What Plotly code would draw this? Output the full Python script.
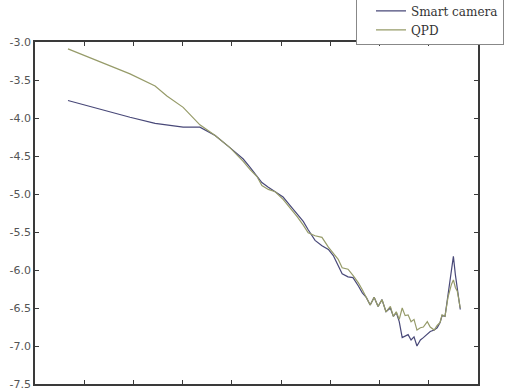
import plotly.graph_objects as go

# x positions (shared by both series)
x_vals = [0.67, 1.28, 1.93, 2.44, 2.68, 3.01, 3.35, 3.66, 3.96, 4.23, 4.37, 4.51, 4.61, 4.74,
          4.88, 5.04, 5.18, 5.33, 5.45, 5.55, 5.69, 5.83, 5.96, 6.06, 6.16, 6.24, 6.36, 6.46,
          6.57, 6.65, 6.73, 6.81, 6.89, 6.97, 7.05, 7.13, 7.22, 7.28, 7.34, 7.40, 7.46, 7.52,
          7.58, 7.64, 7.70, 7.76, 7.83, 7.89, 7.97, 8.03, 8.11, 8.17, 8.23, 8.27, 8.33, 8.39,
          8.46, 8.50, 8.54, 8.58, 8.64]

smart_camera = [-3.77, -3.88, -3.99, -4.07, -4.09, -4.12, -4.12, -4.23, -4.39, -4.54, -4.65, -4.77,
                -4.85, -4.91, -4.97, -5.04, -5.15, -5.27, -5.36, -5.47, -5.61, -5.68, -5.73, -5.81,
                -5.94, -6.05, -6.09, -6.10, -6.21, -6.30, -6.36, -6.46, -6.36, -6.48, -6.39, -6.55,
                -6.50, -6.61, -6.56, -6.68, -6.89, -6.87, -6.85, -6.92, -6.88, -7.00, -6.92, -6.89,
                -6.85, -6.81, -6.79, -6.76, -6.69, -6.60, -6.61, -6.32, -5.97, -5.82, -6.06, -6.26,
                -6.52]

qpd = [-3.09, -3.25, -3.42, -3.58, -3.71, -3.86, -4.09, -4.23, -4.39, -4.57, -4.68, -4.77,
       -4.89, -4.94, -4.97, -5.07, -5.18, -5.30, -5.41, -5.51, -5.55, -5.57, -5.70, -5.78,
       -5.86, -5.97, -5.99, -6.07, -6.17, -6.26, -6.36, -6.46, -6.36, -6.48, -6.39, -6.55,
       -6.48, -6.61, -6.55, -6.65, -6.50, -6.60, -6.59, -6.68, -6.65, -6.79, -6.76, -6.75,
       -6.68, -6.75, -6.79, -6.73, -6.69, -6.59, -6.61, -6.36, -6.19, -6.13, -6.23, -6.28,
       -6.50]

y_ticks = [-3.0, -3.5, -4.0, -4.5, -5.0, -5.5, -6.0, -6.5, -7.0, -7.5]
y_tick_labels = ["-3.0", "-3.5", "-4.0", "-4.5", "-5.0", "-5.5", "-6.0", "-6.5", "-7.0", "-7.5"]
x_ticks = [0, 1, 2, 3, 4, 5, 6, 7, 8, 9]

fig = go.Figure()
fig.add_trace(go.Scatter(x=x_vals, y=smart_camera, mode="lines", name="Smart camera",
                         line=dict(color="rgb(72,72,120)", width=1.2)))
fig.add_trace(go.Scatter(x=x_vals, y=qpd, mode="lines", name="QPD",
                         line=dict(color="rgb(150,155,105)", width=1.2)))

axis_common = dict(showgrid=False, zeroline=False, showline=True, linecolor="#3a3a3a",
                   linewidth=1.5, mirror="ticks", ticks="inside", ticklen=4,
                   tickcolor="#3a3a3a", tickwidth=1)

fig.update_xaxes(range=[0, 9], tickvals=x_ticks, showticklabels=False, **axis_common)
fig.update_yaxes(range=[-7.5, -3.0], tickvals=y_ticks, ticktext=y_tick_labels,
                 tickfont=dict(family="DejaVu Sans", size=11, color="#555555"),
                 ticklabeloverflow="allow",
                 **axis_common)

fig.update_layout(
    width=515, height=390,
    margin=dict(l=35, r=37, t=42, b=6, autoexpand=False),
    paper_bgcolor="white", plot_bgcolor="white",
    showlegend=True,
    legend=dict(x=0.7246, y=0.99, xanchor="left", yanchor="bottom",
                bgcolor="white", bordercolor="#888888", borderwidth=1,
                indentation=14, entrywidth=165, entrywidthmode="pixels",
                font=dict(family="DejaVu Serif", size=12, color="#333333")),
)

fig.write_html("out.html", config={"displayModeBar": False},
               post_script="document.body.style.margin='0';document.body.style.padding='0';")
